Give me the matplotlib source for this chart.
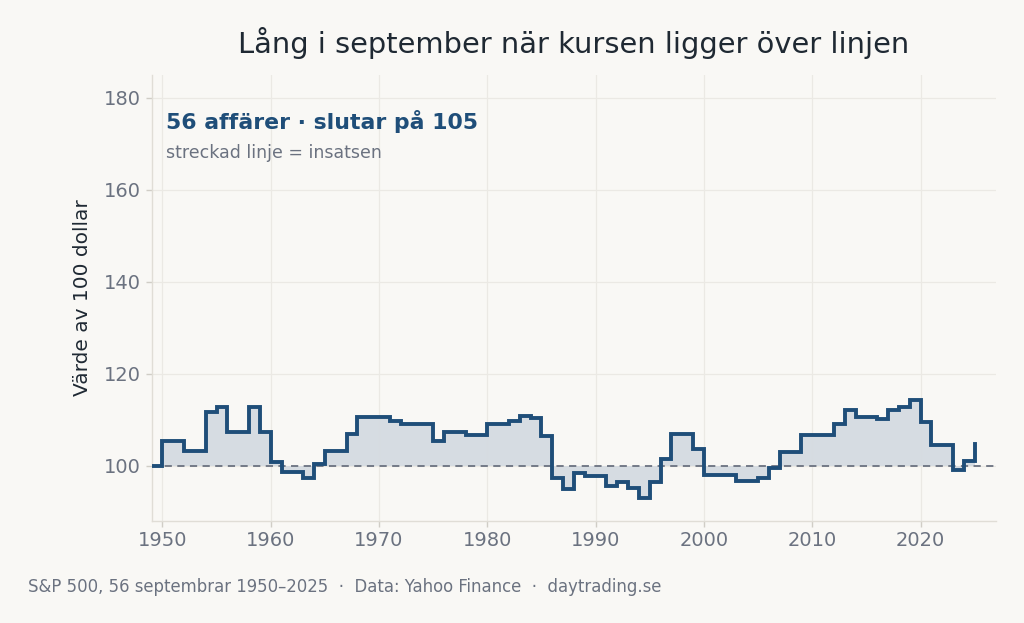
import matplotlib
matplotlib.use("Agg")
import matplotlib.pyplot as plt

years = list(range(1949, 2026))
values = [
    100.0,                                   # 1949 start
    105.5, 105.3, 103.2, 103.2, 111.6,       # 1950-1954
    112.9, 107.4, 107.4, 112.8, 107.3,       # 1955-1959
    100.9, 98.7, 98.7, 97.4, 100.4,          # 1960-1964
    103.3, 103.3, 106.9, 110.7, 110.7,       # 1965-1969
    110.7, 109.8, 109.1, 109.1, 109.1,       # 1970-1974
    105.3, 107.4, 107.4, 106.6, 106.6,       # 1975-1979
    109.1, 109.1, 109.8, 110.9, 110.4,       # 1980-1984
    106.4, 97.3, 94.9, 98.5, 97.8,           # 1985-1989
    97.8, 95.7, 96.5, 95.2, 92.9,            # 1990-1994
    96.5, 101.4, 106.9, 106.9, 103.6,        # 1995-1999
    97.9, 97.9, 97.9, 96.8, 96.8,            # 2000-2004
    97.3, 99.6, 103.1, 103.1, 106.7,         # 2005-2009
    106.7, 106.7, 109.0, 112.2, 110.6,       # 2010-2014
    110.6, 110.1, 112.2, 112.7, 114.4,       # 2015-2019
    109.6, 104.5, 104.5, 99.2, 101.0,        # 2020-2024
    104.8,                                   # 2025
]
baseline = 100
title = "Lång i september när kursen ligger över linjen"
headline = "56 affärer · slutar på 105"
subline = "streckad linje = insatsen"
ylabel = "Värde av 100 dollar"
footer = "S&P 500, 56 septembrar 1950–2025  ·  Data: Yahoo Finance  ·  daytrading.se"
xticks = [1950, 1960, 1970, 1980, 1990, 2000, 2010, 2020]
yticks = [100, 120, 140, 160, 180]

bg = "#f9f8f5"
line_c = "#1f4e79"
grey = "#6b7280"
dark = "#1f2933"

fig = plt.figure(figsize=(10.24, 6.23), dpi=100, facecolor=bg)
ax = fig.add_axes([0.148, 0.1637, 0.825, 0.716])
ax.set_facecolor(bg)

ax.fill_between(years, values, baseline, step="post", color="#d5dbe1", alpha=0.95, lw=0, zorder=2)
ax.plot(years, values, drawstyle="steps-post", color=line_c, lw=2.8, zorder=4,
        solid_joinstyle="miter")
ax.axhline(baseline, color=grey, lw=1.3, ls=(0, (4, 3)), zorder=3)

ax.set_xlim(1949, 2027)
ax.set_ylim(88, 185)
ax.set_xticks(xticks)
ax.set_yticks(yticks)
ax.grid(True, color="#ebe9e4", lw=0.9, zorder=0)
for s in ["top", "right"]:
    ax.spines[s].set_visible(False)
for s in ["left", "bottom"]:
    ax.spines[s].set_color("#e0ddd6")
    ax.spines[s].set_linewidth(1.0)
ax.tick_params(axis="both", colors="#d0cdc6", labelcolor=grey, labelsize=14, length=4, width=1)

ax.set_ylabel(ylabel, fontsize=14.5, color=dark, labelpad=9)
ax.set_title(title, fontsize=20.8, color=dark, pad=16)

ax.text(0.017, 0.895, headline, transform=ax.transAxes, fontsize=15.8, fontweight="bold",
        color=line_c, va="center", ha="left")
ax.text(0.017, 0.826, subline, transform=ax.transAxes, fontsize=12.5,
        color=grey, va="center", ha="left")

fig.text(0.027, 0.058, footer, fontsize=11.9, color=grey, ha="left", va="center")

fig.savefig("out.png", dpi=100, facecolor=bg)
